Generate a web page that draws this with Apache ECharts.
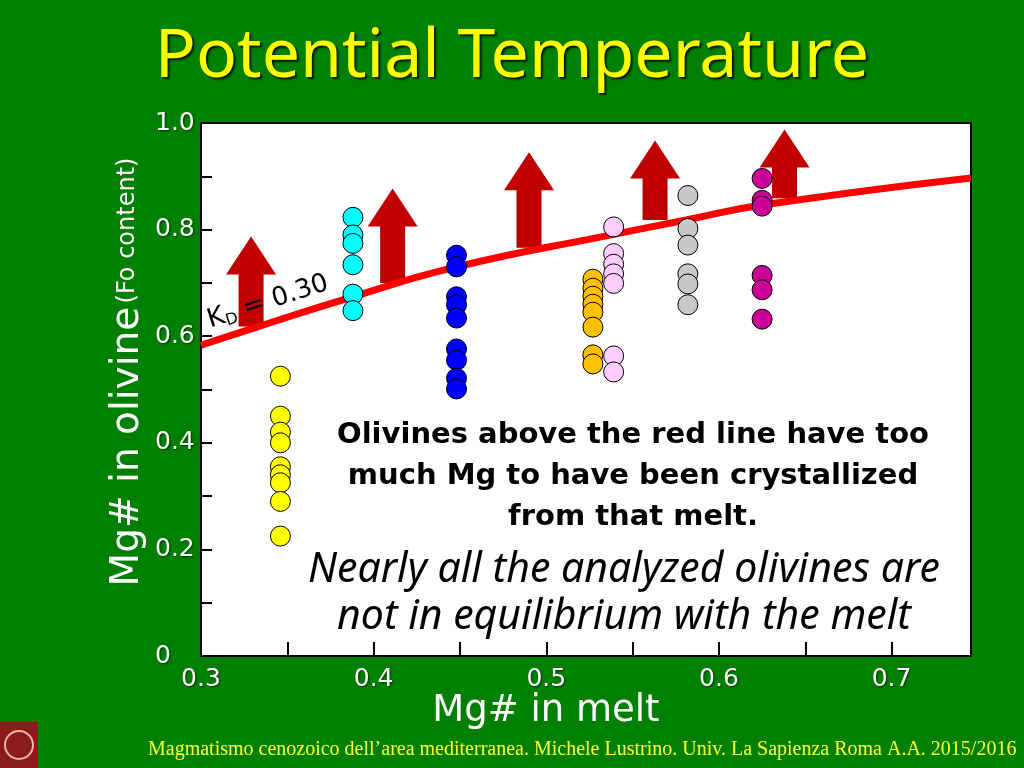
<!DOCTYPE html>
<html>
<head>
<meta charset="utf-8">
<script src="https://cdn.jsdelivr.net/npm/echarts@6/dist/echarts.min.js"></script>
<style>
html,body{margin:0;padding:0;background:#008000;}
#c{width:1024px;height:768px;}
</style>
</head>
<body>
<div id="c"></div>
<script>
// ---- data ----
var xTickValues = [0.3, 0.4, 0.5, 0.6, 0.7];
var xTickLabels = ['0.3', '0.4', '0.5', '0.6', '0.7'];
var yTickValues = [0, 0.2, 0.4, 0.6, 0.8, 1.0];
var yTickLabels = ['0', '0.2', '0.4', '0.6', '0.8', '1.0'];

// Mg# in melt of each sample column
var groupMelt = [0.346, 0.388, 0.448, 0.527, 0.539, 0.582, 0.625];
var groupColors = ['#ffff00', '#00ffff', '#0000ff', '#ffc000', '#ffccff', '#c8c8c8', '#cc0099'];
// Mg# in olivine per column
var yellowOl = [0.525, 0.450, 0.420, 0.400, 0.355, 0.340, 0.325, 0.290, 0.225];
var cyanOl = [0.823, 0.790, 0.774, 0.734, 0.679, 0.648];
var blueOl = [0.752, 0.730, 0.674, 0.659, 0.634, 0.576, 0.555, 0.521, 0.501];
var orangeOl = [0.707, 0.690, 0.675, 0.660, 0.645, 0.617, 0.565, 0.548];
var pinkOl = [0.805, 0.755, 0.735, 0.717, 0.699, 0.563, 0.533];
var grayOl = [0.864, 0.802, 0.771, 0.717, 0.698, 0.659];
var magentaOl = [0.896, 0.855, 0.844, 0.714, 0.687, 0.632];
var groupOl = [yellowOl, cyanOl, blueOl, orangeOl, pinkOl, grayOl, magentaOl];

// KD = 0.30 equilibrium curve
var kdMelt = [0.300, 0.334, 0.386, 0.448, 0.539, 0.581, 0.625, 0.746];
var kdOl = [0.583, 0.619, 0.672, 0.730, 0.791, 0.818, 0.846, 0.897];

// arrows: melt position, tip and base (olivine Mg#)
var arrowMelt = [0.329, 0.411, 0.490, 0.563, 0.638];
var arrowTip = [0.787, 0.877, 0.945, 0.967, 0.988];
var arrowBase = [0.618, 0.700, 0.766, 0.818, 0.859];

function pickLabel(values, labels, v) {
  for (var i = 0; i < values.length; i++) {
    if (Math.abs(values[i] - v) < 1e-6) return labels[i];
  }
  return '';
}

var chart = echarts.init(document.getElementById('c'), null, {renderer: 'canvas'});

var series = [];
series.push({
  type: 'custom',
  z: 1,
  silent: true,
  data: arrowMelt.map(function (x, i) { return [x, arrowTip[i], arrowBase[i]]; }),
  renderItem: function (params, api) {
    var tip = api.coord([api.value(0), api.value(1)]);
    var base = api.coord([api.value(0), api.value(2)]);
    var hw = 25, hh = 38, sw = 12.5;
    return {
      type: 'polygon',
      shape: {points: [
        [tip[0], tip[1]],
        [tip[0] + hw, tip[1] + hh],
        [tip[0] + sw, tip[1] + hh],
        [tip[0] + sw, base[1]],
        [tip[0] - sw, base[1]],
        [tip[0] - sw, tip[1] + hh],
        [tip[0] - hw, tip[1] + hh]
      ]},
      style: {fill: '#c00000'}
    };
  }
});
series.push({
  type: 'line',
  z: 2,
  smooth: true,
  symbol: 'none',
  silent: true,
  lineStyle: {color: '#ff0000', width: 7},
  data: kdMelt.map(function (x, i) { return [x, kdOl[i]]; })
});
groupOl.forEach(function (arr, g) {
  series.push({
    type: 'scatter',
    z: 3,
    symbol: 'circle',
    symbolSize: 20,
    itemStyle: {color: groupColors[g], borderColor: '#000', borderWidth: 1, opacity: 1},
    data: arr.map(function (v) { return [groupMelt[g], v]; })
  });
});

var labelShadow = {textShadowColor: 'rgba(0,0,0,0.6)', textShadowBlur: 2, textShadowOffsetX: 1, textShadowOffsetY: 1};

chart.setOption({
  backgroundColor: '#008000',
  animation: false,
  grid: {left: 201, top: 123, width: 770, height: 533, show: true, backgroundColor: '#ffffff', borderColor: '#000', borderWidth: 2},
  xAxis: {
    type: 'value', min: 0.3, max: 0.746, interval: 0.05,
    axisLine: {show: true, lineStyle: {color: '#000', width: 2}},
    axisTick: {show: true, inside: true, length: 14, lineStyle: {color: '#000', width: 2}},
    splitLine: {show: false},
    axisLabel: Object.assign({
      color: '#ffffff', fontSize: 25, fontFamily: 'DejaVu Sans', margin: 11,
      showMaxLabel: false,
      formatter: function (v) { return pickLabel(xTickValues, xTickLabels, v); }
    }, labelShadow)
  },
  yAxis: {
    type: 'value', min: 0, max: 1, interval: 0.1,
    axisLine: {show: true, lineStyle: {color: '#000', width: 2}},
    axisTick: {show: true, inside: true, length: 11, lineStyle: {color: '#000', width: 2}},
    splitLine: {show: false},
    axisLabel: Object.assign({
      color: '#ffffff', fontSize: 25, fontFamily: 'DejaVu Sans', margin: 46, align: 'left',
      formatter: function (v) { return pickLabel(yTickValues, yTickLabels, v); }
    }, labelShadow)
  },
  series: series,
  graphic: [
    {type: 'text', x: 512, y: 58, z: 10,
      style: {text: 'Potential Temperature', fill: '#ffff00', font: '68px "Noto Sans"', align: 'center', verticalAlign: 'middle',
        textShadowColor: 'rgba(0,0,0,0.8)', textShadowOffsetX: 2, textShadowOffsetY: 2, textShadowBlur: 2}},
    {type: 'text', x: 128, y: 372, rotation: Math.PI / 2, z: 10,
      style: {text: '{a|Mg# in olivine} {b|(Fo content)}', align: 'center', verticalAlign: 'middle',
        rich: {
          a: {fontSize: 39, fontFamily: 'DejaVu Sans', fill: '#ffffff', textShadowColor: 'rgba(0,0,0,0.6)', textShadowOffsetX: 1, textShadowOffsetY: 1},
          b: {fontSize: 24, fontFamily: 'DejaVu Sans', fill: '#ffffff', textShadowColor: 'rgba(0,0,0,0.6)', textShadowOffsetX: 1, textShadowOffsetY: 1}
        }}},
    {type: 'text', x: 546, y: 711, z: 10,
      style: {text: 'Mg# in melt', align: 'center', verticalAlign: 'middle', fill: '#ffffff', font: '37px "DejaVu Sans"',
        textShadowColor: 'rgba(0,0,0,0.6)', textShadowOffsetX: 1, textShadowOffsetY: 1}},
    {type: 'text', x: 268, y: 302, rotation: 0.31, z: 10,
      style: {text: '{k|K}{s|D}{k| = 0.30}', align: 'center', verticalAlign: 'middle',
        rich: {
          k: {fontSize: 26, fontFamily: 'DejaVu Sans', fill: '#000'},
          s: {fontSize: 16, fontFamily: 'DejaVu Sans', fill: '#000', verticalAlign: 'bottom', padding: [12, 0, 0, 0]}
        }}},
    {type: 'text', x: 633, y: 476, z: 10,
      style: {text: 'Olivines above the red line have too\nmuch Mg to have been crystallized\nfrom that melt.',
        align: 'center', verticalAlign: 'middle', fill: '#000', font: 'bold 29px "DejaVu Sans"', lineHeight: 41}},
    {type: 'text', x: 624, y: 594, z: 10,
      style: {text: 'Nearly all the analyzed olivines are\nnot in equilibrium with the melt',
        align: 'center', verticalAlign: 'middle', fill: '#000', font: 'italic 41px "Noto Sans"', lineHeight: 47}},
    {type: 'text', x: 148, y: 750, z: 10,
      style: {text: 'Magmatismo cenozoico dell\u2019area mediterranea. Michele Lustrino. Univ. La Sapienza Roma A.A. 2015/2016',
        align: 'left', verticalAlign: 'middle', fill: '#ffff33', font: '20px "Liberation Serif"'}},
    {type: 'rect', shape: {x: 0, y: 722, width: 38, height: 46}, style: {fill: '#8a1c1c'}, z: 10},
    {type: 'circle', shape: {cx: 19, cy: 745, r: 14}, style: {fill: 'none', stroke: '#e8b8a8', lineWidth: 2}, z: 11}
  ]
});
</script>
</body>
</html>
